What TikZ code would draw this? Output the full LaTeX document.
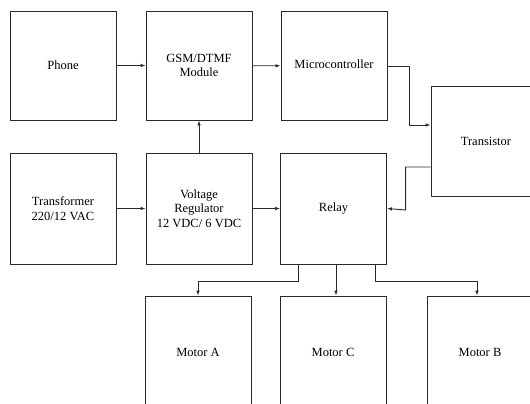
\documentclass[tikz,border=0pt]{standalone}
\usepackage{fontspec}
\setmainfont{Liberation Serif}
\newfontfamily\blkfont{Liberation Serif}
\usetikzlibrary{arrows.meta}
\definecolor{edge}{HTML}{2A2A2A}

\begin{document}
\begin{tikzpicture}[x=1pt,y=-1pt,
		blk/.style={draw=edge,line width=0.9pt,minimum width=106pt,minimum height=109pt,inner sep=0pt,align=center,font=\blkfont\fontsize{12.5}{14.5}\selectfont},
		conn/.style={-{Latex[length=5pt,width=3.6pt]},line width=0.9pt,edge}]
	\useasboundingbox (0,0) rectangle (530,404);
	\clip (0,0) rectangle (530,404);
	\node[blk] (phn) at (63,65.5) {Phone};
	\node[blk] (gsm) at (199,65.5) {GSM/DTMF\\Module};
	\node[blk] (mcu) at (334,66) {\strut Microcontroller};
	\node[blk,minimum width=110pt,minimum height=110pt] (trn) at (486,141) {Transistor};
	\node[blk,minimum height=111pt] (tfm) at (63,208.5) {Transformer\\220/12 VAC};
	\node[blk,minimum height=111pt] (reg) at (199,208.5) {Voltage\\Regulator\\12 VDC/ 6 VDC};
	\node[blk,minimum height=111pt] (rly) at (333.5,208.5) {Relay};
	\node[blk,minimum height=112pt] (mta) at (198,352) {Motor A};
	\node[blk,minimum height=112pt] (mtc) at (333,352) {Motor C};
	\node[blk,minimum height=112pt] (mtb) at (480,352) {Motor B};

	\draw[conn] (phn) -- (gsm);
	\draw[conn] (gsm) -- (mcu);
	\draw[conn] (mcu.east) -| ++(22,59) -- (trn.west |- 0,125);
	\draw[conn] (trn.west |- 0,167) -| ++(-25,43) -- (rly.east);
	\draw[conn] (tfm) -- (reg);
	\draw[conn] (reg) -- (rly);
	\draw[conn] (reg.north) -- (gsm.south);
	\draw[conn] (rly.south -| 298,0) |- ++(0,17) -| (mta.north);
	\draw[conn] (rly.south -| 336,0) -- (mtc.north -| 336,0);
	\draw[conn] (rly.south -| 375,0) |- ++(0,17) -| (mtb.north -| 477,0);
\end{tikzpicture}
\end{document}
